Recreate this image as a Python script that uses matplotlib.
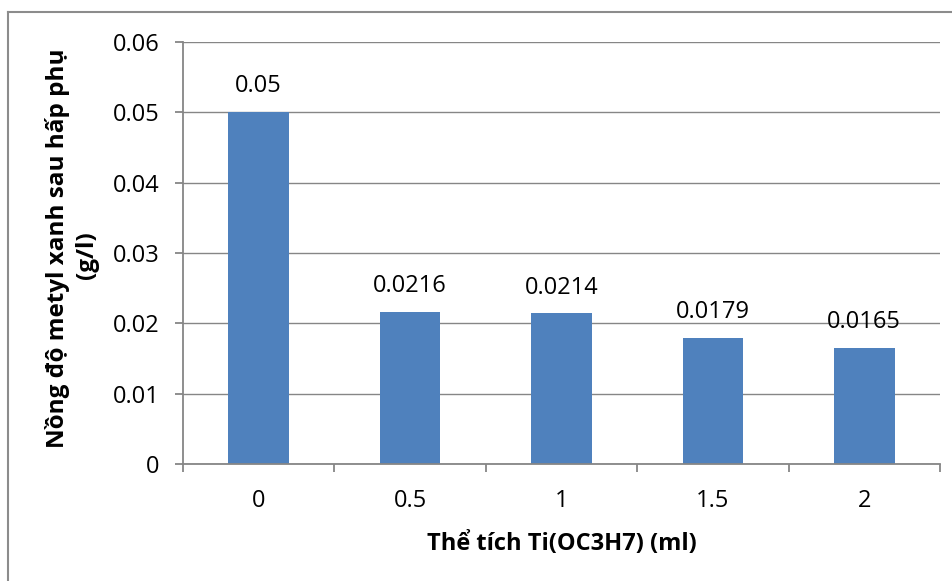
import matplotlib
matplotlib.use("Agg")
import matplotlib.pyplot as plt
from matplotlib.lines import Line2D

categories = ["0", "0.5", "1", "1.5", "2"]
values = [0.05, 0.0216, 0.0214, 0.0179, 0.0165]
value_labels = ["0.05", "0.0216", "0.0214", "0.0179", "0.0165"]
yticks = [0, 0.01, 0.02, 0.03, 0.04, 0.05, 0.06]
ytick_labels = ["0", "0.01", "0.02", "0.03", "0.04", "0.05", "0.06"]
ylabel_lines = ["Nồng độ metyl xanh sau hấp phụ", "(g/l)"]
xlabel = "Thể tích Ti(OC3H7) (ml)"

plt.rcParams['font.family'] = ['Open Sans', 'DejaVu Sans']

fig = plt.figure(figsize=(9.53, 5.81), dpi=100)
W, H = 953, 581
ax = fig.add_axes([183 / W, 1 - 464 / H, (940 - 183) / W, (464 - 42) / H])

grid_c = "#868686"
FS = 17
x = list(range(len(categories)))
ax.bar(x, values, width=0.40, color="#4F81BD", zorder=3)
ax.set_xlim(-0.5, len(categories) - 0.5)
ax.set_ylim(0, 0.06)
ax.set_yticks(yticks)
ax.set_yticklabels(ytick_labels, fontsize=FS)
ax.set_xticks(x)
ax.set_xticklabels(categories, fontsize=FS)
ax.tick_params(axis='x', length=0, pad=18)
ax.tick_params(axis='y', length=5.8, color=grid_c, width=1.3, pad=11)
ax.set_xticks([i - 0.5 for i in range(len(categories) + 1)], minor=True)
ax.tick_params(axis='x', which='minor', length=6, color=grid_c, width=1.3)

ax.grid(axis='y', color=grid_c, linewidth=1.0, zorder=0)
for s in ['top', 'right']:
    ax.spines[s].set_visible(False)
for s in ['left', 'bottom']:
    ax.spines[s].set_color(grid_c)
    ax.spines[s].set_linewidth(1.3)
    ax.spines[s].set_zorder(4)

for xi, v, lab in zip(x, values, value_labels):
    ax.annotate(lab, (xi, v), xytext=(0, 10), textcoords='offset points',
                ha='center', va='bottom', fontsize=FS)

ax.set_xlabel(xlabel, fontsize=17, fontweight='bold', labelpad=14)

# y label: two lines placed by baseline
fig.text(64 / W, 1 - 248 / H, ylabel_lines[0], rotation=90, rotation_mode='anchor',
         ha='center', va='baseline', fontsize=17.5, fontweight='bold')
fig.text(93 / W, 1 - 255 / H, ylabel_lines[1], rotation=90, rotation_mode='anchor',
         ha='center', va='baseline', fontsize=17.5, fontweight='bold')

# outer chart border (top and left visible)
fig.add_artist(Line2D([8 / W, 1.0], [1 - 12 / H, 1 - 12 / H], transform=fig.transFigure,
                      color="#8c8c8c", linewidth=1.5))
fig.add_artist(Line2D([8 / W, 8 / W], [1 - 12 / H, 0.0], transform=fig.transFigure,
                      color="#8c8c8c", linewidth=1.5))

fig.savefig("out.png", dpi=100, facecolor="white")
